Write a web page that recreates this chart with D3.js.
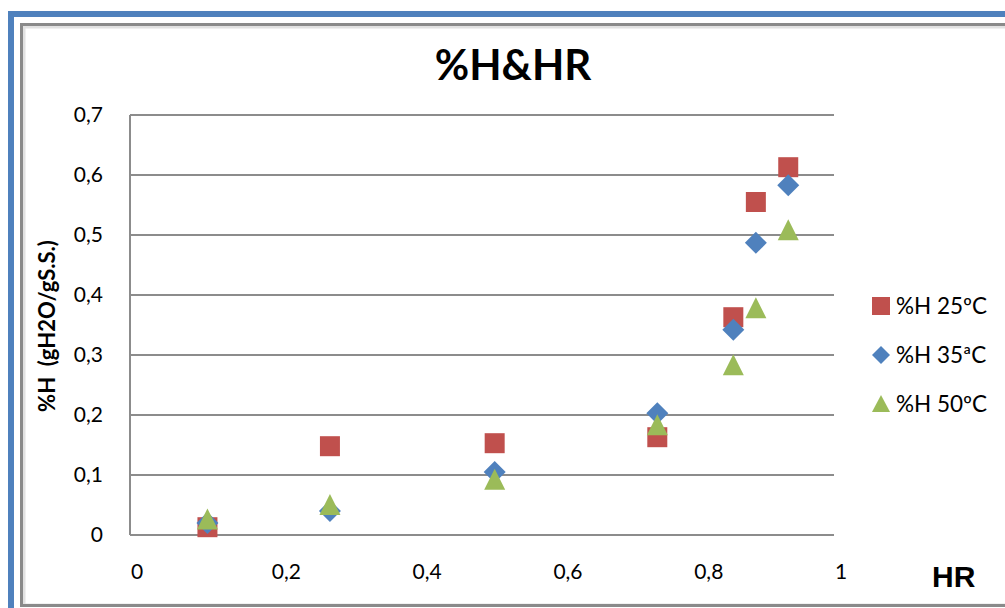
<!DOCTYPE html>
<html>
<head>
<meta charset="utf-8">
<script src="https://cdn.jsdelivr.net/npm/d3@7"></script>
<style>
  body { margin: 0; background: #fff; }
  svg text { font-family: Lato, "Noto Sans", sans-serif; fill: #000; }
</style>
</head>
<body>
<svg id="chart" width="1005" height="608"></svg>
<script>
// data
var hr = [0.11, 0.284, 0.518, 0.749, 0.857, 0.889, 0.935];
var h25 = [0.013, 0.148, 0.153, 0.163, 0.363, 0.555, 0.613];
var h35 = [0.020, 0.040, 0.105, 0.203, 0.342, 0.487, 0.583];
var h50 = [0.026, 0.050, 0.092, 0.183, 0.283, 0.378, 0.508];
var seriesNames = ["%H 25ºC", "%H 35ªC", "%H 50ºC"];
var xTicks = [0, 0.2, 0.4, 0.6, 0.8, 1];
var yTicks = [0, 0.1, 0.2, 0.3, 0.4, 0.5, 0.6, 0.7];

var colors = ["#C0504D", "#4F81BD", "#9BBB59"];
var fmt = function(v){ return String(+v.toFixed(1)).replace(".", ","); };

var svg = d3.select("#chart");

// outer frame (blue + grey shadowed line)
svg.append("rect").attr("x", 11).attr("y", 14).attr("width", 1100).attr("height", 700)
   .attr("fill", "none").attr("stroke", "#4F81BD").attr("stroke-width", 6);
svg.append("rect").attr("x", 24).attr("y", 27).attr("width", 1100).attr("height", 578)
   .attr("fill", "none").attr("stroke", "#e2e2e2").attr("stroke-width", 3);
svg.append("rect").attr("x", 21.5).attr("y", 24.5).attr("width", 1100).attr("height", 581)
   .attr("fill", "none").attr("stroke", "#8a8a8a").attr("stroke-width", 3);

var x = d3.scaleLinear().domain([0, 1]).range([130, 834]);
var y = d3.scaleLinear().domain([0, 0.7]).range([535, 115]);

// gridlines
svg.append("g").selectAll("line").data(yTicks).enter().append("line")
   .attr("x1", x(0)).attr("x2", x(1))
   .attr("y1", function(d){ return y(d); }).attr("y2", function(d){ return y(d); })
   .attr("stroke", "#8c8c8c").attr("stroke-width", 2);

// y axis line
svg.append("line").attr("x1", x(0)).attr("x2", x(0)).attr("y1", y(0)).attr("y2", y(0.7))
   .attr("stroke", "#8c8c8c").attr("stroke-width", 2);

// tick labels
svg.append("g").selectAll("text").data(yTicks).enter().append("text")
   .attr("x", 103).attr("y", function(d){ return y(d) + 7; })
   .attr("text-anchor", "end").style("font-size", "21px")
   .text(function(d){ return fmt(d); });

svg.append("g").selectAll("text").data(xTicks).enter().append("text")
   .attr("x", function(d){ return x(d) + 1; }).attr("y", 579)
   .attr("text-anchor", "start").style("font-size", "21px")
   .text(function(d){ return fmt(d); });

// titles
svg.append("text").attr("x", 513).attr("y", 80).attr("text-anchor", "middle")
   .style("font-size", "42px").style("font-weight", "bold").text("%H&HR");

svg.append("text").attr("transform", "translate(55,326) rotate(-90)")
   .attr("text-anchor", "middle").style("font-size", "22px").style("font-weight", "bold")
   .attr("xml:space", "preserve").text("%H  (gH2O/gS.S.)");

svg.append("text").attr("x", 932).attr("y", 587)
   .style("font-family", "'Liberation Sans', Arial, sans-serif")
   .style("font-size", "30px").style("font-weight", "bold").text("HR");

// marker shapes
function markerPath(k){
  if (k === 0) return "M-10,-10H10V10H-10Z";
  if (k === 1) return "M0,-11L11,0L0,11L-11,0Z";
  return "M0,-11L10.5,10L-10.5,10Z";
}

var allSeries = [h25, h35, h50];
allSeries.forEach(function(vals, k){
  svg.append("g").selectAll("path").data(vals).enter().append("path")
     .attr("d", markerPath(k))
     .attr("transform", function(d, i){ return "translate(" + x(hr[i]) + "," + y(d) + ")"; })
     .attr("fill", colors[k]);
});

// legend
var leg = svg.append("g").selectAll("g").data(seriesNames).enter().append("g")
   .attr("transform", function(d, i){ return "translate(881," + (306 + i * 49) + ")"; });
leg.append("path").attr("d", function(d, i){ return i === 0 ? "M-9,-9H9V9H-9Z" : i === 1 ? "M0,-9L9,0L0,9L-9,0Z" : "M0,-9L9,8L-9,8Z"; })
   .attr("fill", function(d, i){ return colors[i]; });
leg.append("text").attr("x", 15).attr("y", 8).style("font-size", "22.5px")
   .text(function(d){ return d; });
</script>
</body>
</html>
